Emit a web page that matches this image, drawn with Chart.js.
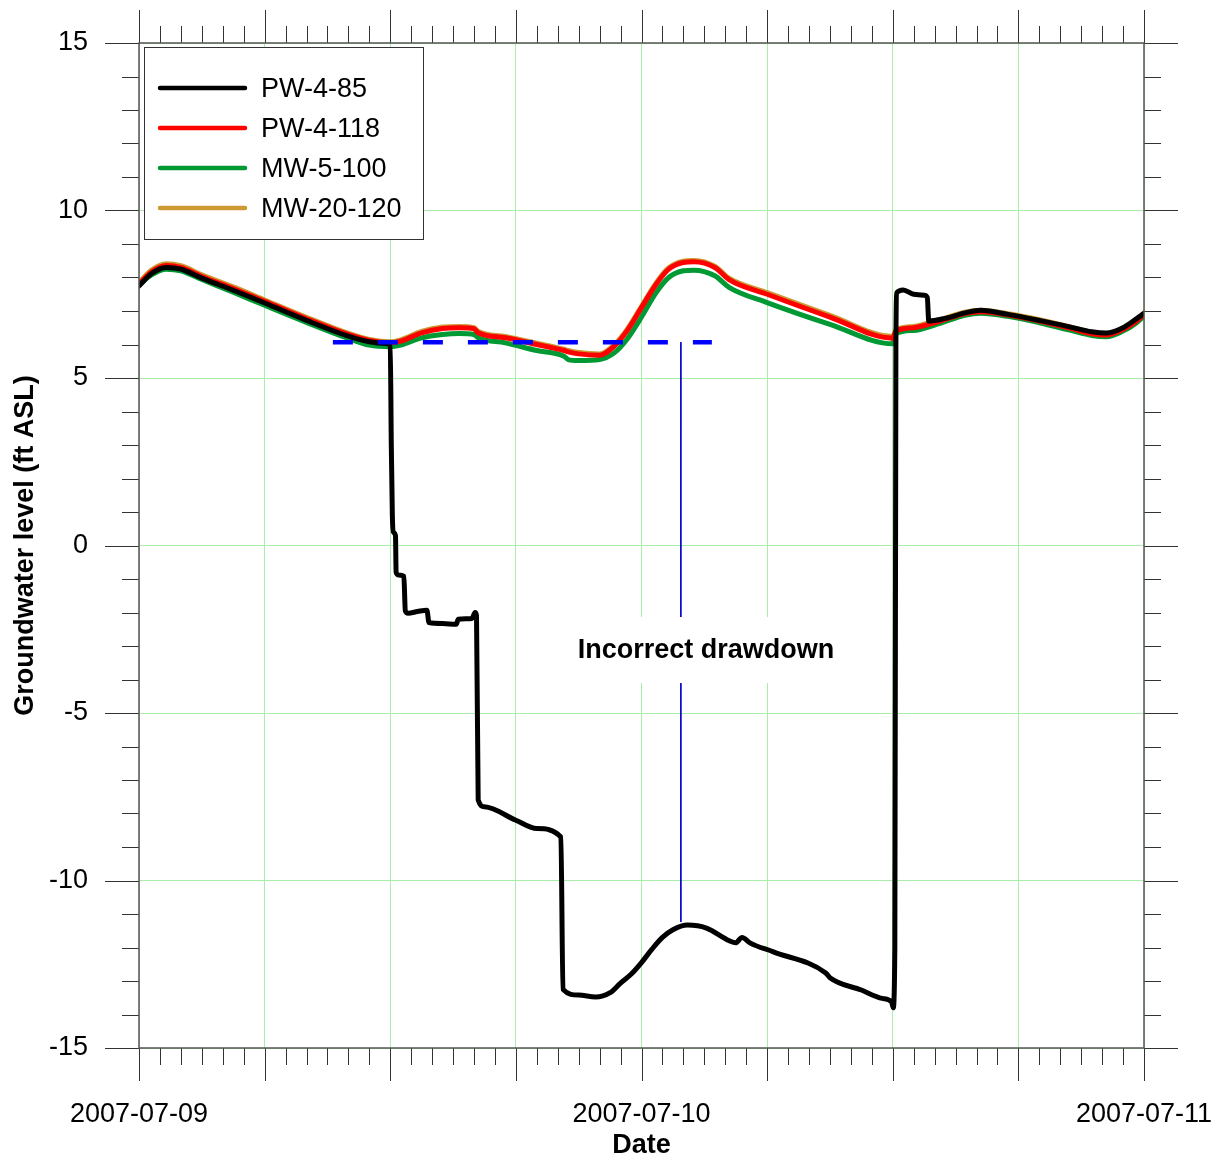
<!DOCTYPE html>
<html>
<head>
<meta charset="utf-8">
<title>Groundwater level</title>
<script src="https://cdn.jsdelivr.net/npm/chart.js@4.4.1/dist/chart.umd.min.js"></script>
<style>
  html, body { margin: 0; padding: 0; background: #fff; }
  #wrap { width: 1220px; height: 1162px; }
</style>
</head>
<body>
<div id="wrap"><canvas id="chart" width="1220" height="1162"></canvas></div>
<script>
// hours since 2007-07-09 00:00
const dateLabels = ['2007-07-09', '2007-07-10', '2007-07-11'];
const levelTicks = [-15, -10, -5, 0, 5, 10, 15];

// PW-4-85 logger (drops while pumping)
const pw485Hours = [0, 0.6, 1.3, 2, 3, 4.5, 6, 8, 10, 11, 11.8, 12.0, 12.05, 12.1, 12.15, 12.25, 12.28, 12.4, 12.65, 12.72,
  12.85, 13.3, 13.75, 13.85, 14.5, 15.15, 15.25, 15.9, 16.05, 16.12, 16.2, 16.5, 18, 19, 20.15, 20.25, 21, 21.8, 22.5, 23.0,
  23.5, 24, 24.5, 25.0, 25.5, 26.2, 27.1, 28.2, 28.5, 28.8, 29.2, 30.3, 32.8, 33, 34.5, 35.5, 35.95, 36.02, 36.1, 36.15,
  36.2, 36.5, 37, 37.5, 37.65, 37.72, 38.5, 39.5, 40.2, 41.5, 43, 44.5, 45.5, 46.2, 47, 47.6, 48];
const pw485Levels = [7.75, 8.12, 8.3, 8.25, 7.98, 7.62, 7.24, 6.72, 6.25, 6.08, 6.03, 6.0, 3.0, 0.9, 0.4, 0.3, -0.8, -0.88, -0.92, -1.95,
  -2.02, -1.97, -1.93, -2.3, -2.33, -2.35, -2.2, -2.18, -2.0, -2.1, -7.6, -7.8, -8.2, -8.45, -8.7, -13.25, -13.42, -13.48, -13.35, -13.06,
  -12.8, -12.45, -12.05, -11.7, -11.47, -11.33, -11.42, -11.8, -11.86, -11.7, -11.87, -12.13, -12.76, -12.9, -13.27, -13.52, -13.63, -13.8, -12.0, 6.0,
  7.55, 7.63, 7.5, 7.47, 7.4, 6.7, 6.78, 6.95, 7.02, 6.9, 6.72, 6.52, 6.38, 6.34, 6.5, 6.75, 6.93];

// the other three loggers share one time base
const wellHours = [0, 0.6, 1.3, 2, 3, 4.5, 6, 8, 10, 11, 12, 12.5, 13.5, 14.5, 15.3, 16, 16.2, 17.5, 19, 20.3,
  20.5, 21, 22, 22.7, 23.3, 24, 24.7, 25.3, 26, 26.5, 27.5, 28.2, 30, 33, 36, 36.15, 37, 38, 39.5, 40.2,
  41.5, 43, 44.5, 45.5, 46.2, 47, 47.6, 48];
const pw4118Levels = [7.8, 8.17, 8.36, 8.3, 8.03, 7.67, 7.29, 6.77, 6.3, 6.12, 6.05, 6.1, 6.35, 6.48, 6.5, 6.47, 6.35, 6.2, 6.0, 5.82,
  5.78, 5.72, 5.68, 5.95, 6.4, 7.1, 7.8, 8.25, 8.45, 8.47, 8.3, 7.93, 7.5, 6.82, 6.19, 6.4, 6.5, 6.65, 6.93, 6.98,
  6.88, 6.7, 6.48, 6.32, 6.28, 6.45, 6.68, 6.9];
const mw5100Levels = [7.78, 8.08, 8.25, 8.2, 7.94, 7.56, 7.17, 6.66, 6.18, 5.98, 5.93, 5.98, 6.2, 6.3, 6.33, 6.3, 6.2, 6.05, 5.82, 5.65,
  5.55, 5.52, 5.55, 5.75, 6.15, 6.82, 7.55, 8.0, 8.2, 8.22, 8.05, 7.7, 7.25, 6.6, 6.02, 6.32, 6.42, 6.58, 6.88, 6.93,
  6.84, 6.65, 6.42, 6.27, 6.23, 6.4, 6.63, 6.85];
const mw20120Levels = [7.85, 8.22, 8.41, 8.35, 8.08, 7.72, 7.33, 6.81, 6.33, 6.15, 6.08, 6.14, 6.39, 6.52, 6.54, 6.5, 6.39, 6.24, 6.04, 5.86,
  5.82, 5.76, 5.72, 5.99, 6.44, 7.14, 7.84, 8.29, 8.49, 8.51, 8.34, 7.97, 7.55, 6.87, 6.24, 6.43, 6.54, 6.69, 6.97, 7.02,
  6.92, 6.74, 6.52, 6.36, 6.32, 6.49, 6.72, 6.94];

// static level reference and the drawdown marker
const staticHours = [9.26, 27.36];
const staticLevel = 6.07;
const drawdownHour = 25.88;
const drawdownLevels = [6.07, -11.24];
const noteText = 'Incorrect drawdown';
const notePos = [27.08, -3.12];

const FONT = '"Liberation Sans", Arial, sans-serif';
const toPoints = (xs, ys) => xs.map((h, i) => ({x: h, y: ys[i]}));

function series(label, color, hours, levels) {
  return {
    label: label,
    data: toPoints(hours, levels),
    borderColor: color,
    backgroundColor: color,
    borderWidth: 5,
    pointRadius: 0,
    cubicInterpolationMode: 'monotone',
    borderJoinStyle: 'round',
    borderCapStyle: 'round',
    order: 0
  };
}

// tick marks outside the frame on all four sides
const frameTicks = {
  id: 'frameTicks',
  afterDraw(chart) {
    const {ctx, chartArea: a, scales: {x, y}} = chart;
    ctx.save();
    ctx.strokeStyle = '#333';
    ctx.lineWidth = 1;
    ctx.beginPath();
    for (let h = x.min; h <= x.max; h++) {
      const px = Math.round(x.getPixelForValue(h)) + 0.5;
      const len = h % 6 === 0 ? 33 : 17;
      ctx.moveTo(px, a.bottom); ctx.lineTo(px, a.bottom + len);
      ctx.moveTo(px, a.top); ctx.lineTo(px, a.top - len);
    }
    for (let v = y.min; v <= y.max; v++) {
      const py = Math.round(y.getPixelForValue(v)) + 0.5;
      const len = v % 5 === 0 ? 34 : 17;
      ctx.moveTo(a.left, py); ctx.lineTo(a.left - len, py);
      ctx.moveTo(a.right, py); ctx.lineTo(a.right + len, py);
    }
    ctx.stroke();
    ctx.strokeStyle = '#555';
    ctx.lineWidth = 1.5;
    ctx.strokeRect(a.left, a.top, a.right - a.left, a.bottom - a.top);
    ctx.restore();
  }
};

// boxed legend in the upper left corner
const boxLegend = {
  id: 'boxLegend',
  afterDatasetsDraw(chart) {
    const {ctx, chartArea: a} = chart;
    const left = a.left + 5, top = a.top + 4;
    ctx.save();
    ctx.fillStyle = '#fff';
    ctx.fillRect(left, top, 279, 192);
    ctx.strokeStyle = '#333';
    ctx.lineWidth = 1;
    ctx.strokeRect(left + 0.5, top + 0.5, 279, 192);
    ctx.font = '27px ' + FONT;
    ctx.textBaseline = 'middle';
    ctx.lineCap = 'round';
    chart.data.datasets.filter(d => d.label).forEach((d, i) => {
      const rowY = top + 41 + i * 40;
      ctx.strokeStyle = d.borderColor;
      ctx.lineWidth = 4.5;
      ctx.beginPath();
      ctx.moveTo(left + 16, rowY);
      ctx.lineTo(left + 101, rowY);
      ctx.stroke();
      ctx.fillStyle = '#000';
      ctx.fillText(d.label, left + 117, rowY + 2);
    });
    ctx.restore();
  }
};

// note text on a white patch, covering the marker line
const noteLabel = {
  id: 'noteLabel',
  afterDatasetsDraw(chart) {
    const {ctx, scales: {x, y}} = chart;
    const cx = x.getPixelForValue(notePos[0]);
    const cy = y.getPixelForValue(notePos[1]);
    ctx.save();
    ctx.font = 'bold 27px ' + FONT;
    const w = ctx.measureText(noteText).width;
    ctx.fillStyle = '#fff';
    ctx.fillRect(cx - w / 2 - 19, cy - 33, w + 38, 66);
    ctx.fillStyle = '#000';
    ctx.textAlign = 'center';
    ctx.textBaseline = 'middle';
    ctx.fillText(noteText, cx, cy + 1);
    ctx.restore();
  }
};

new Chart(document.getElementById('chart'), {
  type: 'line',
  data: {
    datasets: [
      series('PW-4-85', '#000000', pw485Hours, pw485Levels),
      series('PW-4-118', '#ff0000', wellHours, pw4118Levels),
      series('MW-5-100', '#009933', wellHours, mw5100Levels),
      series('MW-20-120', '#cc9933', wellHours, mw20120Levels),
      {
        data: toPoints(staticHours, staticHours.map(() => staticLevel)),
        borderColor: '#0000ff',
        borderWidth: 4.5,
        borderDash: [20, 25],
        pointRadius: 0,
        order: -1
      },
      {
        data: toPoints([drawdownHour, drawdownHour], drawdownLevels),
        borderColor: '#0000cc',
        borderWidth: 1,
        pointRadius: 0,
        order: -1
      }
    ]
  },
  options: {
    responsive: false,
    animation: false,
    devicePixelRatio: 1,
    layout: {padding: {top: 43, right: 76, left: 0, bottom: 0}},
    plugins: {legend: {display: false}, tooltip: {enabled: false}},
    scales: {
      x: {
        type: 'linear',
        min: 0,
        max: 48,
        afterFit(scale) {
          scale.height = 114;
          scale.paddingLeft = 0;
          scale.paddingRight = 0;
        },
        ticks: {
          stepSize: 6,
          autoSkip: false,
          maxRotation: 0,
          padding: 50,
          color: '#000',
          font: {family: FONT, size: 27},
          callback: v => (v % 24 === 0 ? dateLabels[v / 24] : '')
        },
        grid: {color: '#a8eea8', lineWidth: 1, drawTicks: false},
        border: {display: false},
        title: {display: true, text: 'Date', color: '#000', padding: 0,
          font: {family: FONT, size: 27, weight: 'bold'}}
      },
      y: {
        type: 'linear',
        min: -15,
        max: 15,
        afterFit(scale) {
          scale.width = 139;
          scale.paddingTop = 0;
          scale.paddingBottom = 0;
        },
        afterBuildTicks(scale) { scale.ticks = levelTicks.map(v => ({value: v})); },
        ticks: {
          padding: 51,
          color: '#000',
          font: {family: FONT, size: 27},
          callback: v => String(v)
        },
        grid: {color: '#a8eea8', lineWidth: 1, drawTicks: false},
        border: {display: false},
        title: {display: true, text: 'Groundwater level (ft ASL)', color: '#000',
          padding: {top: 9, bottom: 0}, font: {family: FONT, size: 27, weight: 'bold'}}
      }
    }
  },
  plugins: [frameTicks, boxLegend, noteLabel]
});
</script>
</body>
</html>
